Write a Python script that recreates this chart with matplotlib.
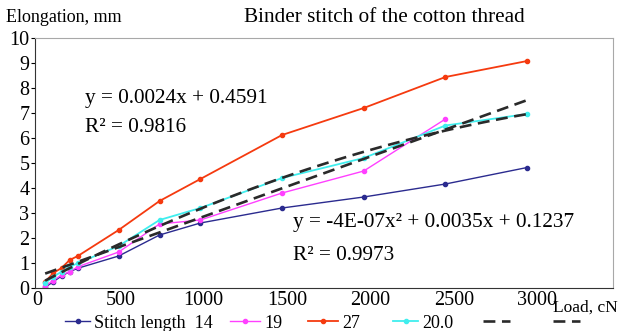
import matplotlib
matplotlib.use("Agg")
import matplotlib.pyplot as plt
from matplotlib.lines import Line2D
import numpy as np

# data
load = [49, 98, 147, 196, 245, 490, 735, 980, 1470, 1960, 2450, 2940]
len14 = [0.03, 0.25, 0.48, 0.65, 0.79, 1.28, 2.12, 2.6, 3.2, 3.64, 4.16, 4.82]
load19 = [49, 98, 147, 196, 245, 490, 735, 980, 1470, 1960, 2450]
len19 = [0.08, 0.3, 0.52, 0.65, 0.85, 1.44, 2.56, 2.72, 3.8, 4.68, 6.76]
len27 = [0.25, 0.6, 0.8, 1.12, 1.28, 2.32, 3.48, 4.36, 6.12, 7.2, 8.44, 9.08]
len20 = [0.2, 0.45, 0.65, 0.85, 0.99, 1.68, 2.72, 3.2, 4.4, 5.2, 6.5, 6.96]

# trend lines as printed on the chart
lin_coef = [0.0024, 0.4591]
poly_coef = [-4e-07, 0.0035, 0.1237]
trend_x = np.linspace(49, 2940, 60)

plt.rcParams["font.family"] = ["Liberation Serif", "DejaVu Serif"]

W, H = 622, 331
fig = plt.figure(figsize=(6.22, 3.31), dpi=100)
ax = fig.add_axes([35 / W, 43 / H, 578 / W, 250 / H])

series = [
    (load, len14, "#2b2b8f", 1.0, "Stitch length  14"),
    (load19, len19, "#ff40ff", 1.0, "19"),
    (load, len27, "#f53a0f", 1.3, "27"),
    (load, len20, "#40eeee", 1.3, "20.0"),
]
for xs, ys, c, lw, _ in series:
    ax.plot(xs, ys, color=c, lw=lw, marker="o", ms=3)
dash = (4.5, 2.5)
ax.plot(trend_x, np.polyval(lin_coef, trend_x), color="#2a2a2a", lw=1.9,
        dashes=dash)
ax.plot(trend_x, np.polyval(poly_coef, trend_x), color="#2a2a2a", lw=1.9,
        dashes=dash)

ax.set_xlim(-12, 3455)
ax.set_ylim(0, 10)
ax.set_xticks([0, 500, 1000, 1500, 2000, 2500, 3000])
ax.set_yticks(range(0, 11))
ax.tick_params(axis="y", direction="out", length=3, labelsize=14.5, pad=1)
ax.tick_params(axis="x", length=0, labelsize=14.5, pad=2)
for s in ["top", "right"]:
    ax.spines[s].set_color("#a8a8a8")
for s in ["left", "bottom"]:
    ax.spines[s].set_color("#333333")

fs_eq = 15.3
fig.text(85 / W, 1 - 98 / H, "y = 0.0024x + 0.4591", fontsize=fs_eq,
         va="center", ha="left")
fig.text(85 / W, 1 - 127 / H, "R\u00b2 = 0.9816", fontsize=fs_eq,
         va="center", ha="left")
fig.text(293 / W, 1 - 223 / H, "y = -4E-07x\u00b2 + 0.0035x + 0.1237",
         fontsize=fs_eq, va="center", ha="left")
fig.text(293 / W, 1 - 256 / H, "R\u00b2 = 0.9973", fontsize=fs_eq,
         va="center", ha="left")

fig.text(384 / W, 1 - 17 / H, "Binder stitch of the cotton thread",
         fontsize=15.3, ha="center", va="center")
fig.text(6 / W, 1 - 17 / H, "Elongation, mm", fontsize=13,
         ha="left", va="center")
fig.text(618 / W, 1 - 308 / H, "Load, cN", fontsize=12.5,
         ha="right", va="center")

# legend along the bottom edge, placed like the original
leg_y = 1 - 321 / H
txt_y = 1 - 324 / H
handles = [(65, 90), (230, 260), (308, 338), (393, 418)]
for (x0, x1), (_, _, c, lw, lab) in zip(handles, series):
    fig.add_artist(Line2D([x0 / W, x1 / W], [leg_y, leg_y], color=c, lw=lw,
                          transform=fig.transFigure))
    fig.add_artist(Line2D([(x0 + x1) / 2 / W], [leg_y], color=c, marker="o",
                          ms=3, transform=fig.transFigure))
    fig.text((x1 + 4) / W, txt_y, lab, fontsize=13, ha="left", va="center")
for x0, x1 in [(483, 510), (553, 580)]:
    fig.add_artist(Line2D([x0 / W, x1 / W], [leg_y, leg_y], color="#2a2a2a",
                          lw=1.9, dashes=dash, transform=fig.transFigure))

fig.savefig("out.png", dpi=100)
